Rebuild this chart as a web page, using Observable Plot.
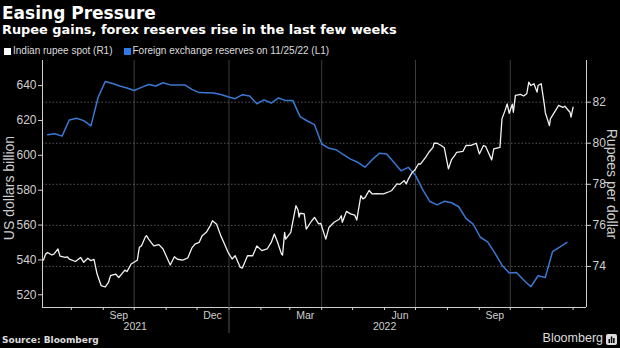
<!DOCTYPE html>
<html>
<head>
<meta charset="utf-8">
<script src="https://cdn.jsdelivr.net/npm/d3@7"></script>
<script src="https://cdn.jsdelivr.net/npm/@observablehq/plot@0.6"></script>
<style>
  html, body { margin: 0; padding: 0; background: #000; }
  #wrap { position: relative; width: 620px; height: 348px; background: #000; overflow: hidden; }
  .abs { position: absolute; white-space: nowrap; }
  #title { left: 2px; top: 3px; font: bold 17px "DejaVu Sans", sans-serif; line-height: 20px; color: #fff; }
  #subtitle { left: 2px; top: 22px; font: bold 12.9px "DejaVu Sans", sans-serif; line-height: 16px; color: #fff; }
  #legend { left: 4px; top: 45px; font: 10px "Liberation Sans", Arial, sans-serif; line-height: 12px; color: #ddd; display: flex; align-items: center; }
  #legend .sw { display: inline-block; width: 7px; height: 7px; margin-right: 2px; }
  #legend .item { display: inline-flex; align-items: center; margin-right: 11px; }
  #chart { left: 0; top: 56px; }
  .ytitle { font: 14px "Liberation Sans", Arial, sans-serif; line-height: 16px; color: #cfcfcf; transform-origin: 0 0; }
  #ltitle { left: 9px; top: 188px; transform: rotate(-90deg) translate(-50%, -50%); }
  #rtitle { left: 612px; top: 184px; transform: rotate(90deg) translate(-50%, -50%); }
  #source { left: 2px; top: 334px; font: bold 9px "DejaVu Sans", sans-serif; line-height: 12px; color: #ddd; }
  #brand { right: 17px; top: 331px; font: 12.5px "Liberation Sans", Arial, sans-serif; line-height: 14px; color: #ddd; }
  #logo { left: 606px; top: 334px; }
</style>
</head>
<body>
<div id="wrap">
  <div id="title" class="abs">Easing Pressure</div>
  <div id="subtitle" class="abs">Rupee gains, forex reserves rise in the last few weeks</div>
  <div id="legend" class="abs"></div>
  <div id="chart" class="abs"></div>
  <div id="ltitle" class="abs ytitle"></div>
  <div id="rtitle" class="abs ytitle"></div>
  <div id="source" class="abs">Source: Bloomberg</div>
  <div id="brand" class="abs">Bloomberg</div>
  <svg id="logo" class="abs" width="11" height="11" viewBox="0 0 11 11">
    <rect x="0" y="0" width="11" height="11" rx="2" fill="#ddd"></rect>
    <rect x="2.5" y="5" width="1.5" height="4" fill="#000"></rect>
    <rect x="4.8" y="2.5" width="1.5" height="6.5" fill="#000"></rect>
    <rect x="7.1" y="4" width="1.5" height="5" fill="#000"></rect>
  </svg>
</div>
<script>
// ---------- data ----------
const seriesNames = ["Indian rupee spot (R1)", "Foreign exchange reserves on 11/25/22 (L1)"];
const seriesColors = ["#f2f2f2", "#3a78d2"];

// Foreign exchange reserves, US$ bn (weekly, left axis)
const reserveDates = [
  "2021-07-09","2021-07-16","2021-07-23","2021-07-30","2021-08-06","2021-08-13","2021-08-20","2021-08-27",
  "2021-09-03","2021-09-10","2021-09-17","2021-09-24","2021-10-01","2021-10-08","2021-10-15","2021-10-22",
  "2021-10-29","2021-11-05","2021-11-12","2021-11-19","2021-11-26","2021-12-03","2021-12-10","2021-12-17",
  "2021-12-24","2021-12-31","2022-01-07","2022-01-14","2022-01-21","2022-01-28","2022-02-04","2022-02-11",
  "2022-02-18","2022-02-25","2022-03-04","2022-03-11","2022-03-18","2022-03-25","2022-04-01","2022-04-08",
  "2022-04-15","2022-04-22","2022-04-29","2022-05-06","2022-05-13","2022-05-20","2022-05-27","2022-06-03",
  "2022-06-10","2022-06-17","2022-06-24","2022-07-01","2022-07-08","2022-07-15","2022-07-22","2022-07-29",
  "2022-08-05","2022-08-12","2022-08-19","2022-08-26","2022-09-02","2022-09-09","2022-09-16","2022-09-23",
  "2022-09-30","2022-10-07","2022-10-14","2022-10-21","2022-10-28","2022-11-04","2022-11-11","2022-11-18",
  "2022-11-25"
];
const reserveValues = [
  611.8,612.4,611.0,620.3,621.3,619.9,616.9,633.3,
  642.4,641.2,639.8,638.6,637.2,639.0,640.6,639.8,
  641.6,640.4,640.3,640.4,637.8,636.0,635.9,635.8,
  634.9,633.6,632.5,634.8,634.0,629.6,631.8,630.0,
  632.9,631.4,631.4,622.2,619.7,617.6,606.5,604.0,
  603.2,600.4,597.8,596.0,593.2,597.5,601.2,600.8,
  596.0,591.1,593.1,588.5,580.3,573.5,571.6,573.6,
  572.8,570.5,563.8,560.5,553.0,550.4,544.0,537.0,
  532.5,532.8,528.5,524.6,530.9,529.9,544.7,547.3,
  550.0
];

// Indian rupee spot, rupees per dollar (right axis)
const rupeeDates = [
  "2021-07-05","2021-07-07","2021-07-09","2021-07-13","2021-07-15","2021-07-19","2021-07-21","2021-07-26","2021-07-28","2021-07-30",
  "2021-08-05","2021-08-10","2021-08-13","2021-08-17","2021-08-20","2021-08-23","2021-08-26","2021-08-30",
  "2021-09-01","2021-09-03","2021-09-06","2021-09-08","2021-09-13","2021-09-16","2021-09-20","2021-09-22","2021-09-24","2021-09-28",
  "2021-10-04","2021-10-06","2021-10-08","2021-10-12","2021-10-13","2021-10-15","2021-10-20","2021-10-25","2021-10-29",
  "2021-11-05","2021-11-09","2021-11-12","2021-11-17","2021-11-22","2021-11-26","2021-11-29",
  "2021-12-03","2021-12-06","2021-12-10","2021-12-14","2021-12-16","2021-12-20","2021-12-24","2021-12-27","2021-12-31",
  "2022-01-04","2022-01-07","2022-01-12","2022-01-14","2022-01-19","2022-01-24","2022-01-28",
  "2022-02-02","2022-02-07","2022-02-11","2022-02-14","2022-02-17","2022-02-21","2022-02-22","2022-02-24","2022-02-25",
  "2022-03-02","2022-03-04","2022-03-07","2022-03-09","2022-03-10","2022-03-11","2022-03-15","2022-03-17","2022-03-22","2022-03-25","2022-03-29","2022-03-31",
  "2022-04-05","2022-04-08","2022-04-13","2022-04-18","2022-04-20","2022-04-21","2022-04-25","2022-04-29",
  "2022-05-03","2022-05-05","2022-05-09","2022-05-11","2022-05-13","2022-05-17","2022-05-20","2022-05-24","2022-05-31",
  "2022-06-06","2022-06-08","2022-06-13","2022-06-16","2022-06-20","2022-06-22","2022-06-24","2022-06-28","2022-06-30",
  "2022-07-04","2022-07-06","2022-07-11","2022-07-14","2022-07-18","2022-07-19","2022-07-22","2022-07-26","2022-07-29",
  "2022-08-02","2022-08-05","2022-08-08","2022-08-10","2022-08-16","2022-08-19","2022-08-24","2022-08-29",
  "2022-09-01","2022-09-05","2022-09-07","2022-09-13","2022-09-15","2022-09-21","2022-09-23","2022-09-26","2022-09-28","2022-09-30",
  "2022-10-03","2022-10-04","2022-10-06","2022-10-11","2022-10-14","2022-10-17","2022-10-19","2022-10-21","2022-10-24","2022-10-27","2022-10-28","2022-10-31",
  "2022-11-03","2022-11-04","2022-11-08","2022-11-09","2022-11-10","2022-11-14","2022-11-17","2022-11-21","2022-11-23","2022-11-25","2022-11-28","2022-11-29",
  "2022-12-01"
];
const rupeeValues = [
  74.31,74.60,74.68,74.56,74.60,74.85,74.50,74.44,74.47,74.36,
  74.24,74.44,74.20,74.40,74.28,74.34,73.63,73.06,
  73.03,73.01,73.22,73.55,73.63,73.46,73.70,73.82,73.75,74.12,
  74.30,74.93,75.00,75.46,75.50,75.33,75.00,75.06,74.85,
  74.07,74.47,74.35,74.31,74.41,74.90,75.09,
  75.17,75.50,75.66,76.00,76.23,76.05,75.50,75.17,74.70,
  74.36,74.52,73.95,73.92,74.52,74.52,75.00,
  74.77,74.85,75.17,75.58,75.20,74.60,74.55,75.66,75.33,
  75.66,76.20,76.96,76.75,76.40,76.59,76.56,75.82,76.20,76.39,76.07,76.10,
  75.33,75.90,76.15,76.30,76.47,76.15,76.68,76.56,
  76.50,76.26,77.45,77.29,77.35,77.70,77.53,77.55,77.53,
  77.65,77.70,78.02,78.00,78.18,78.02,78.25,78.59,78.67,
  79.00,78.99,79.32,79.56,79.80,80.00,80.00,79.89,79.78,
  78.75,79.20,79.40,79.56,79.60,79.89,79.90,80.00,
  79.48,79.89,79.85,79.19,79.73,79.80,81.20,81.60,81.92,81.46,
  81.90,81.51,82.33,82.38,82.30,82.41,82.98,82.81,82.90,82.49,82.81,82.90,
  81.92,81.50,80.86,81.20,81.27,81.60,81.84,81.75,81.80,81.68,81.51,81.27,
  81.76
];

// axes
const xDomain = ["2021-07-04", "2022-12-14"];
const leftDomain = [512.7, 654.4];
const rightDomain = [72, 84.03];
const leftTicks = [520, 540, 560, 580, 600, 620, 640];
const rightTicks = [74, 76, 78, 80, 82];
const quarterStarts = ["2021-10-01", "2022-01-01", "2022-04-01", "2022-07-01", "2022-10-01"];
const monthLabelDates = ["2021-09-16", "2021-12-16", "2022-03-16", "2022-06-16", "2022-09-16"];
const monthLabels = ["Sep", "Dec", "Mar", "Jun", "Sep"];
const yearLabelDates = ["2021-10-02", "2022-06-01"];
const yearLabels = ["2021", "2022"];
const yearBreaks = ["2022-01-01"];
const leftTitle = "US dollars billion";
const rightTitle = "Rupees per dollar";

// ---------- build ----------
const D = s => new Date(s);
const k = (leftDomain[1] - leftDomain[0]) / (rightDomain[1] - rightDomain[0]);
const toLeft = v => leftDomain[0] + (v - rightDomain[0]) * k;
const fromLeft = u => rightDomain[0] + (u - leftDomain[0]) / k;

const reserves = reserveDates.map((d, i) => ({date: D(d), value: reserveValues[i]}));
const rupee = rupeeDates.map((d, i) => ({date: D(d), value: rupeeValues[i], y: toLeft(rupeeValues[i])}));

const legend = document.getElementById("legend");
seriesNames.forEach((n, i) => {
  const it = document.createElement("span");
  it.className = "item";
  it.innerHTML = `<span class="sw" style="background:${i === 0 ? "#fff" : "#2f7be6"}"></span>${n}`;
  legend.appendChild(it);
});
document.getElementById("ltitle").textContent = leftTitle;
document.getElementById("rtitle").textContent = rightTitle;

const monthTicks = d3.utcMonths(D(xDomain[0]), D(xDomain[1]));
const axisColor = "#cfcfcf";

const chart = Plot.plot({
  width: 620,
  height: 277,
  marginTop: 4,
  marginLeft: 42,
  marginRight: 34,
  marginBottom: 26,
  style: {background: "#000", color: axisColor, fontFamily: "'Liberation Sans', Arial, sans-serif", fontSize: "12px", overflow: "visible"},
  x: {type: "utc", domain: xDomain.map(D)},
  y: {domain: leftDomain},
  marks: [
    Plot.ruleX(quarterStarts.map(D), {stroke: "#3d3d3d", strokeWidth: 1}),
    Plot.ruleY(rightTicks.map(toLeft), {stroke: "#6a6a6a", strokeWidth: 0.8, strokeDasharray: "1.5,2"}),
    // axis lines
    Plot.ruleX([D(xDomain[0])], {stroke: axisColor, strokeWidth: 1}),
    Plot.ruleX([D(xDomain[1])], {stroke: axisColor, strokeWidth: 1}),
    Plot.ruleY([leftDomain[0]], {stroke: axisColor, strokeWidth: 1}),
    // left axis
    Plot.axisY({anchor: "left", ticks: leftTicks, tickSize: 4, tickPadding: 2, fontSize: 12, label: null}),
    // right axis (rupee)
    Plot.axisY({anchor: "right", ticks: rightTicks.map(toLeft), tickSize: 4, tickPadding: 2, fontSize: 12, label: null,
      tickFormat: u => String(Math.round(fromLeft(u)))}),
    // x axis: month ticks, month labels, years, year break
    Plot.axisX({ticks: monthTicks, tickSize: 3, tickFormat: () => "", label: null}),
    Plot.axisX({ticks: monthLabelDates.map(D), tickSize: 0, tickPadding: 4, fontSize: 10.5, label: null,
      tickFormat: d => monthLabels[monthLabelDates.findIndex(s => +D(s) === +d)]}),
    Plot.axisX({ticks: yearLabelDates.map(D), tickSize: 0, tickPadding: 15, fontSize: 10.5, label: null,
      tickFormat: d => yearLabels[yearLabelDates.findIndex(s => +D(s) === +d)]}),
    Plot.axisX({ticks: yearBreaks.map(D), tickSize: 26, stroke: "#555", tickFormat: () => "", label: null}),
    // series
    Plot.line(reserves, {x: "date", y: "value", stroke: seriesColors[1], strokeWidth: 1.5}),
    Plot.line(rupee, {x: "date", y: "y", stroke: seriesColors[0], strokeWidth: 1.3})
  ]
});
document.getElementById("chart").appendChild(chart);
</script>
</body>
</html>
